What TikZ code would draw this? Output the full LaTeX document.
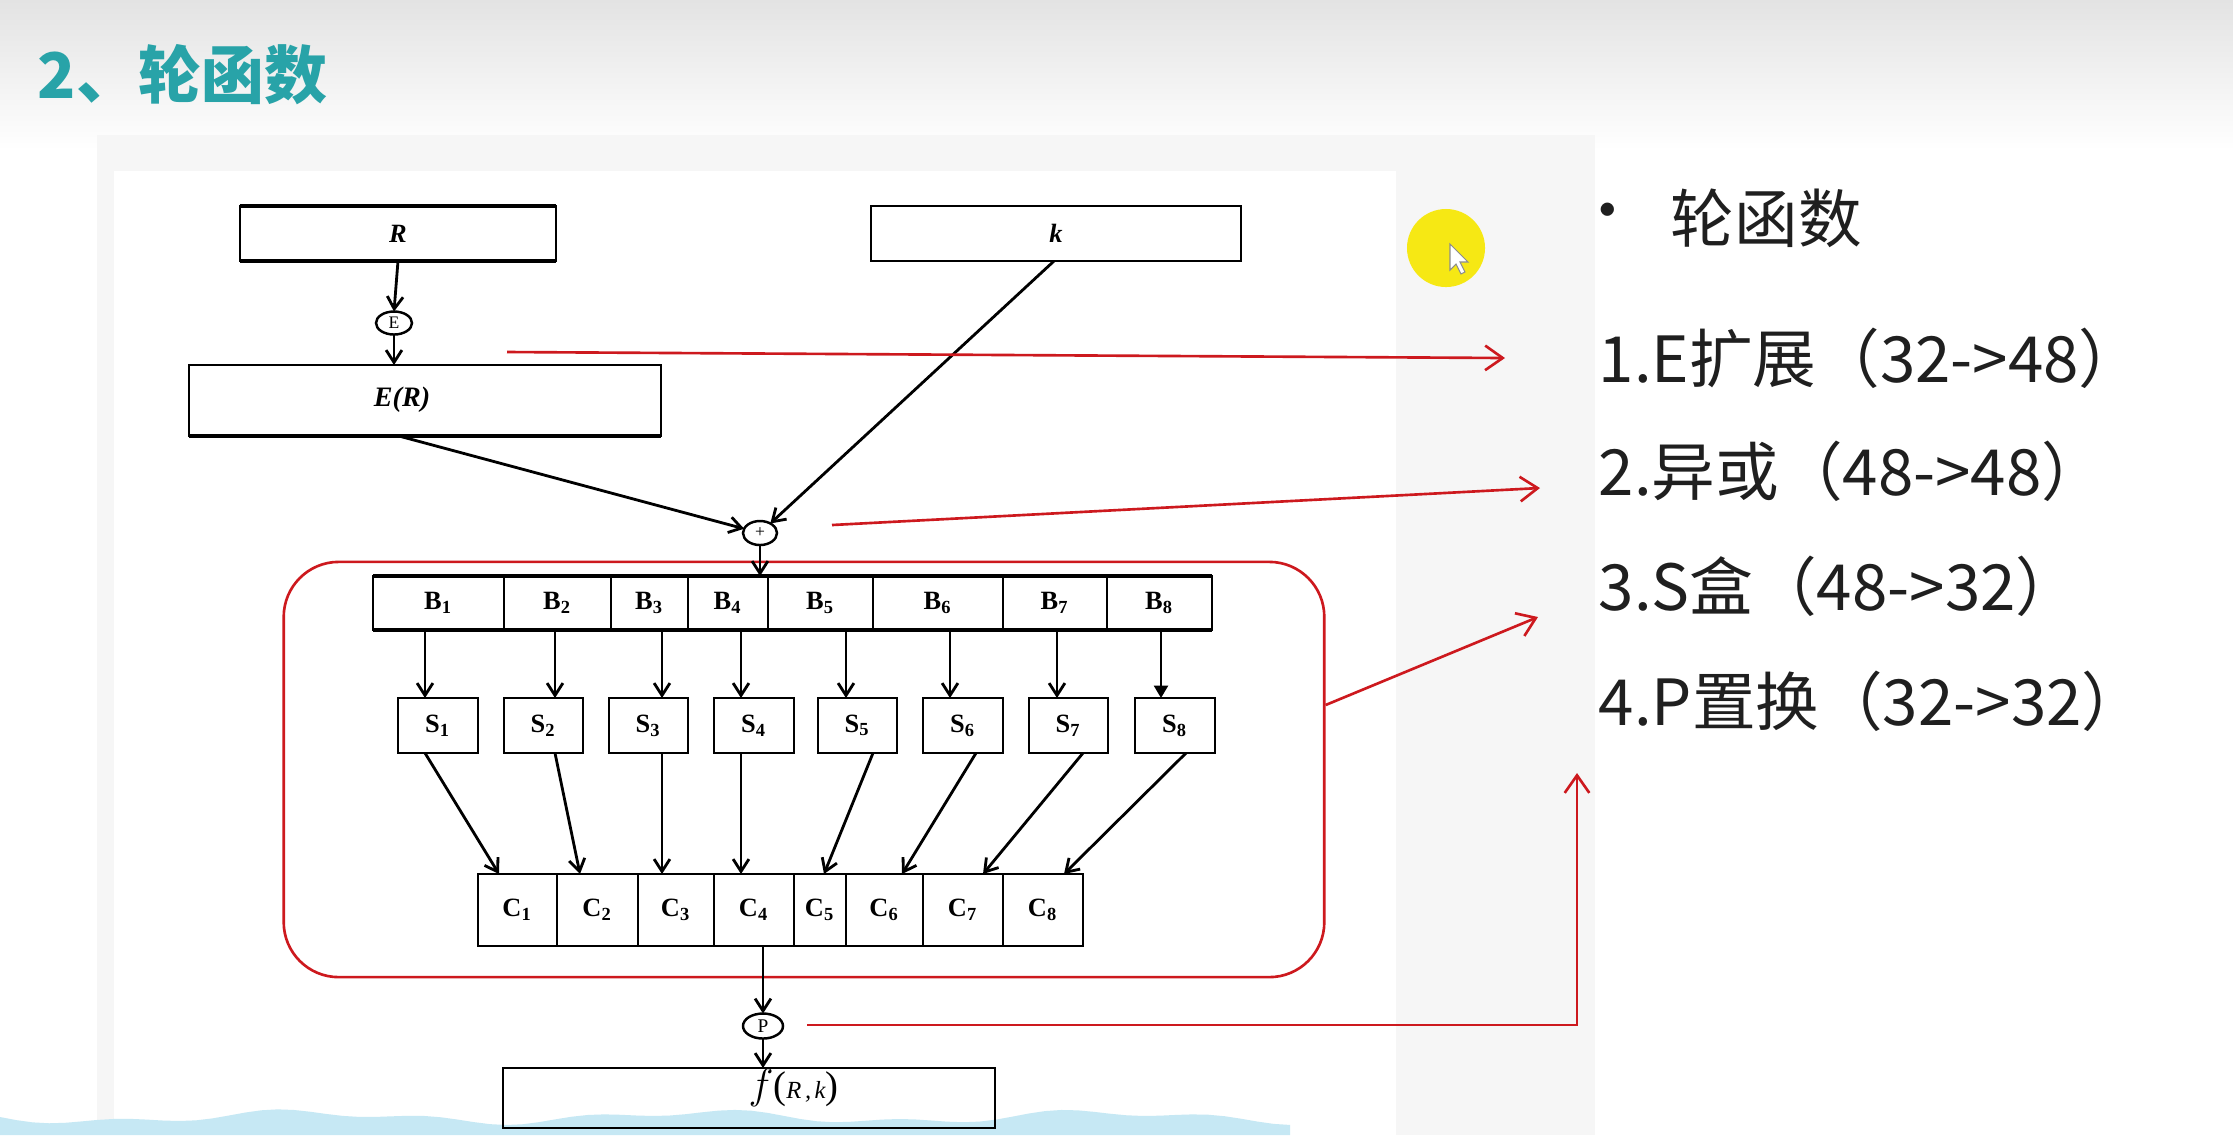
\documentclass[tikz,border=0pt]{standalone}
\usepackage{fontspec}
\setmainfont{Liberation Serif}
\newfontfamily\cjk{Noto Sans CJK SC}
\usetikzlibrary{arrows.meta,shapes.geometric,calc}
\definecolor{teal1}{RGB}{40,163,168}
\definecolor{redl}{RGB}{205,25,30}
\definecolor{wmblue}{RGB}{198,232,244}
\definecolor{cursory}{RGB}{246,232,20}
\tikzset{
  box/.style={draw=black, line width=0.7pt, rectangle, inner sep=0pt, outer sep=0pt,
    font=\fontsize{7.5}{8}\selectfont\bfseries},
  arr/.style={line width=0.8pt, -{Straight Barb[length=3.5pt,width=4.5pt,line width=0.8pt]}},
  redarr/.style={draw=redl, line width=0.75pt, -{Straight Barb[length=5pt,width=7pt,line width=0.75pt]}},
  opnode/.style={ellipse, draw, line width=0.7pt, inner sep=0pt, outer sep=0pt, font=\fontsize{5}{5}\selectfont},
  itemtext/.style={font=\cjk\fontsize{18.1}{20}\selectfont, anchor=west, inner sep=0pt, text=black!88},
}
\begin{document}
\begin{tikzpicture}[x=0.01cm,y=-0.01cm]
\useasboundingbox (0,0) rectangle (2233,1135);
% background
\fill[white] (0,0) rectangle (2233,1135);
\shade[top color=black!11, bottom color=white] (0,0) rectangle (2233,150);
\fill[black!3.5] (97,135) rectangle (1595,1135);
\fill[white] (114,171) rectangle (1396,1135);
% watermark band
\fill[wmblue] (0,1135) -- plot[domain=0:1290, samples=80] (\x, {1117 + 5*sin(\x*0.9) + 3*sin(\x*2.3)}) -- (1290,1135) -- cycle;
% title
\node[font=\cjk\bfseries\fontsize{17.9}{20}\selectfont, text=teal1, anchor=west, inner sep=0pt] (title) at (37,75) {2、轮函数};
% cursor highlight
\fill[cursory] (1446,248) circle[radius=0.39cm];
\filldraw[fill=white, draw=black!45, line width=0.3pt] (1450,244) -- (1450,270) -- (1456,264) -- (1461,274) -- (1465,272) -- (1460,262) -- (1468,262) -- cycle;
% top boxes
\node[box, minimum width=3.16cm, minimum height=0.55cm] (R) at (398,233.5) {\fontsize{7.5}{7.5}\selectfont\bfseries\itshape R};
\node[box, minimum width=3.70cm, minimum height=0.55cm] (k) at (1056,233.5) {\fontsize{7.5}{7.5}\selectfont\bfseries\itshape k};
\node[opnode, minimum width=0.36cm, minimum height=0.23cm] (E) at (394,323) {E};
\node[box, minimum width=4.72cm, minimum height=0.71cm] (ER) at (425,400.5) {};
\node[font=\fontsize{8}{8}\selectfont\bfseries\itshape, inner sep=0pt] (ERl) at (402,400) {E(R)};
\node[opnode, minimum width=0.34cm, minimum height=0.24cm] (X) at (760,533) {+};
\draw[line width=1.2pt] (R.north west) -- (R.north east);
\draw[line width=1.1pt] (R.south west) -- (R.south east);
\draw[line width=1.0pt] (ER.south west) -- (ER.south east);
\draw[arr] (R.south) -- (E.north);
\draw[arr] (E.south) -- (E.south |- ER.north);
\coordinate (erx) at (399,0);
\draw[arr] (ER.south -| erx) -- (X);
\coordinate (kx) at (1054,0);
\draw[arr] (k.south -| kx) -- (X);
% red rounded box
\node[draw=redl, line width=0.75pt, rounded corners=0.55cm, minimum width=10.40cm, minimum height=4.15cm, inner sep=0pt] (RB) at (804,769.5) {};
% B row
\foreach \i/\a/\b in {1/373/504,2/504/611,3/611/688,4/688/768,5/768/873,6/873/1003,7/1003/1107,8/1107/1212}{
  \node[box, minimum width={(\b-\a)*0.01cm}, minimum height=0.54cm] (B\i) at ({(\a+\b)/2},603) {B\textsubscript{\i}};
}
\draw[line width=1.4pt] (B1.north west) -- (B8.north east);
\draw[line width=1.1pt] (B1.south west) -- (B8.south east);
\draw[arr] (X.south) -- (X.south |- B4.north);
% S boxes
\foreach \i/\a/\b in {1/398/478,2/504/583,3/609/688,4/714/794,5/818/897,6/923/1003,7/1029/1108,8/1135/1215}{
  \node[box, minimum width={(\b-\a)*0.01cm}, minimum height=0.55cm] (S\i) at ({(\a+\b)/2},725.5) {S\textsubscript{\i}};
}
% C boxes
\foreach \i/\a/\b in {1/478/557,2/557/638,3/638/714,4/714/794,5/794/846,6/846/923,7/923/1003,8/1003/1083}{
  \node[box, minimum width={(\b-\a)*0.01cm}, minimum height=0.72cm] (C\i) at ({(\a+\b)/2},910) {C\textsubscript{\i}};
}
% B -> S
\foreach \i/\x in {1/425,2/555,3/662,4/741,5/846,6/950,7/1057}{
  \coordinate (bx\i) at (\x,0);
  \draw[arr] (B\i.south -| bx\i) -- (S\i.north -| bx\i);
}
\coordinate (bx8) at (1161,0);
\draw[line width=0.5pt, -{Triangle[length=3.5pt,width=4pt]}] (B8.south -| bx8) -- (S8.north -| bx8);
% S -> C
\foreach \i/\s/\c in {1/425/499,2/555/580,3/662/662,4/741/741,5/873/824,6/976/902,7/1083/983,8/1186/1064}{
  \coordinate (sx\i) at (\s,0);
  \coordinate (cx\i) at (\c,0);
  \draw[arr] (S\i.south -| sx\i) -- (C\i.north -| cx\i);
}
% P and f
\node[opnode, minimum width=0.40cm, minimum height=0.25cm, font=\fontsize{5.5}{5.5}\selectfont] (P) at (763,1026) {P};
\draw[arr] (P.north |- C4.south) -- (P.north);
\node[box, minimum width=4.92cm, minimum height=0.60cm] (F) at (749,1098) {};
\draw[arr] (P.south) -- (P.south |- F.north);
\node[inner sep=0pt, anchor=west, font=\fontsize{7}{7}\selectfont\itshape] (Fl) at (748,1088) {{\fontsize{12}{12}\selectfont$f$}{\fontsize{11}{11}\selectfont\upshape(}R\hspace{1pt},\hspace{1pt}k{\fontsize{11}{11}\selectfont\upshape)}};
% red connectors
\coordinate (r1s) at (507,352); \coordinate (r1e) at (1505,358);
\draw[redarr] (r1s) -- (r1e);
\coordinate (r2s) at (832,525); \coordinate (r2e) at (1540,488);
\draw[redarr] (r2s) -- (r2e);
\coordinate (r3s) at (1324,705); \coordinate (r3e) at (1538,617);
\draw[redarr] (RB.east |- r3s) -- (r3e);
\coordinate (r4s) at (807,1025); \coordinate (r4c) at (1577,1025); \coordinate (r4e) at (1577,773);
\draw[redarr] (r4s) -- (r4c) -- (r4e);
% right text
\node[font=\cjk\fontsize{17.8}{20}\selectfont, inner sep=0pt, text=black!88] (bul) at (1608,218) {•};
\node[itemtext] (t0) at (1670,218) {轮函数};
\node[itemtext] (t1) at (1598,358) {1.E扩展（32->48）};
\node[itemtext] (t2) at (1598,471) {2.异或（48->48）};
\node[itemtext] (t3) at (1598,586) {3.S盒（48->32）};
\node[itemtext] (t4) at (1598,701) {4.P置换（32->32）};
\end{tikzpicture}
\end{document}
